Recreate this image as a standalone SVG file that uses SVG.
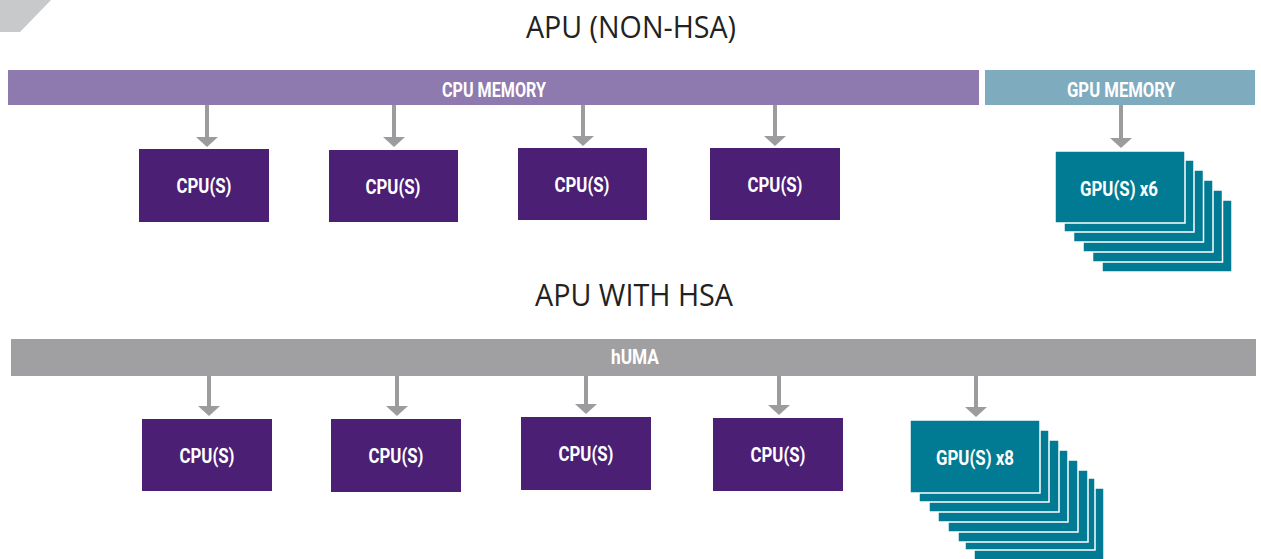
<svg xmlns="http://www.w3.org/2000/svg" width="1261" height="559" viewBox="0 0 1261 559">
<style>
.title{font-family:"Open Sans","Liberation Sans",sans-serif;font-weight:400;font-size:31px;fill:#222222;text-anchor:middle}
.lbl{font-family:Roboto,"Liberation Sans",sans-serif;font-weight:bold;font-size:20px;fill:#ffffff;text-anchor:middle}
.cpu{fill:#4b1f74}
.gpu{fill:#017b93;stroke:#ffffff;stroke-width:1.5}
.arr line{stroke:#9c9c9e;stroke-width:4}
.arr polygon{fill:#9c9c9e}
</style>
<polygon points="0,0 51,0 20,32 0,32" fill="#c8c9cb"/>
<text class="title" x="631" y="38" textLength="210" lengthAdjust="spacingAndGlyphs">APU (NON-HSA)</text>
<text class="title" x="634" y="306" textLength="198" lengthAdjust="spacingAndGlyphs">APU WITH HSA</text>

<g id="cpu-memory"><rect x="8" y="70" width="971" height="35" fill="#8f7aaf"/><text class="lbl" x="494" y="97" textLength="104" lengthAdjust="spacingAndGlyphs">CPU MEMORY</text></g>
<g id="gpu-memory"><rect x="985" y="70" width="270" height="35" fill="#7eacbe"/><text class="lbl" x="1121" y="97" textLength="108" lengthAdjust="spacingAndGlyphs">GPU MEMORY</text></g>
<g id="huma"><rect x="11" y="339" width="1245" height="37" fill="#a0a0a3"/><text class="lbl" x="635" y="364" font-size="18" textLength="48" lengthAdjust="spacingAndGlyphs">hUMA</text></g>

<g id="connectors" class="arr">
<line x1="207" y1="105" x2="207" y2="138"/><polygon points="196,137 218,137 207,147"/>
<line x1="394" y1="105" x2="394" y2="138"/><polygon points="383,137 405,137 394,147"/>
<line x1="583" y1="105" x2="583" y2="137"/><polygon points="572,136 594,136 583,146"/>
<line x1="775" y1="105" x2="775" y2="137"/><polygon points="764,136 786,136 775,146"/>
<line x1="1121" y1="105" x2="1121" y2="139"/><polygon points="1110,138 1132,138 1121,148"/>
<line x1="209" y1="376" x2="209" y2="407"/><polygon points="198,406 220,406 209,416"/>
<line x1="397" y1="376" x2="397" y2="407"/><polygon points="386,406 408,406 397,416"/>
<line x1="586" y1="376" x2="586" y2="405"/><polygon points="575,404 597,404 586,414"/>
<line x1="779" y1="376" x2="779" y2="406"/><polygon points="768,405 790,405 779,415"/>
<line x1="976" y1="376" x2="976" y2="408"/><polygon points="965,407 987,407 976,417"/>
</g>

<g id="cpu1"><rect class="cpu" x="139" y="149" width="130" height="73"/><text class="lbl" x="204" y="193" textLength="55" lengthAdjust="spacingAndGlyphs">CPU(S)</text></g>
<g id="cpu2"><rect class="cpu" x="329" y="150" width="129" height="72"/><text class="lbl" x="393" y="194" textLength="55" lengthAdjust="spacingAndGlyphs">CPU(S)</text></g>
<g id="cpu3"><rect class="cpu" x="518" y="148" width="129" height="72"/><text class="lbl" x="582" y="192" textLength="55" lengthAdjust="spacingAndGlyphs">CPU(S)</text></g>
<g id="cpu4"><rect class="cpu" x="710" y="148" width="130" height="72"/><text class="lbl" x="775" y="192" textLength="55" lengthAdjust="spacingAndGlyphs">CPU(S)</text></g>

<g id="gpu-x6">
<rect class="gpu" x="1102" y="200" width="130" height="72"/>
<rect class="gpu" x="1092.5" y="190" width="130" height="72"/>
<rect class="gpu" x="1083" y="180" width="130" height="72"/>
<rect class="gpu" x="1073.5" y="170" width="130" height="72"/>
<rect class="gpu" x="1064" y="160" width="130" height="72"/>
<rect class="gpu" x="1055" y="151" width="130" height="72"/>
<text class="lbl" x="1119" y="196" textLength="78" lengthAdjust="spacingAndGlyphs">GPU(S) x6</text>
</g>

<g id="cpu5"><rect class="cpu" x="142" y="419" width="130" height="72"/><text class="lbl" x="207" y="463" textLength="55" lengthAdjust="spacingAndGlyphs">CPU(S)</text></g>
<g id="cpu6"><rect class="cpu" x="331" y="419" width="130" height="73"/><text class="lbl" x="396" y="463" textLength="55" lengthAdjust="spacingAndGlyphs">CPU(S)</text></g>
<g id="cpu7"><rect class="cpu" x="521" y="417" width="130" height="73"/><text class="lbl" x="586" y="461" textLength="55" lengthAdjust="spacingAndGlyphs">CPU(S)</text></g>
<g id="cpu8"><rect class="cpu" x="713" y="418" width="130" height="73"/><text class="lbl" x="778" y="462" textLength="55" lengthAdjust="spacingAndGlyphs">CPU(S)</text></g>

<g id="gpu-x8">
<rect class="gpu" x="974" y="488" width="130" height="72"/>
<rect class="gpu" x="965" y="478" width="130" height="72"/>
<rect class="gpu" x="958" y="470" width="130" height="72"/>
<rect class="gpu" x="948" y="460" width="130" height="72"/>
<rect class="gpu" x="938" y="450" width="130" height="72"/>
<rect class="gpu" x="929" y="440" width="130" height="72"/>
<rect class="gpu" x="919" y="430" width="130" height="72"/>
<rect class="gpu" x="910" y="420" width="130" height="73"/>
<text class="lbl" x="975" y="465" textLength="78" lengthAdjust="spacingAndGlyphs">GPU(S) x8</text>
</g>
</svg>
